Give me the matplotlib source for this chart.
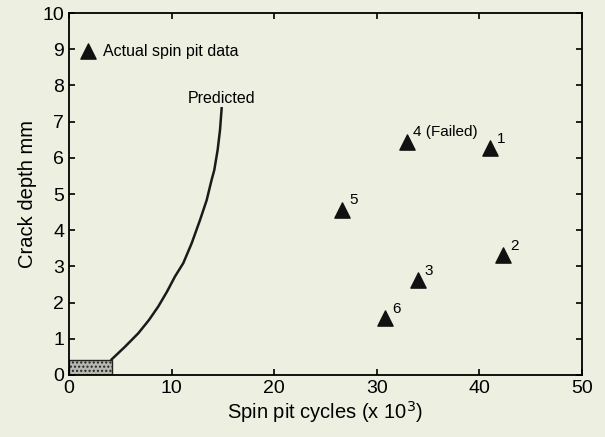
import matplotlib
matplotlib.use("Agg")
import matplotlib.pyplot as plt
from matplotlib.patches import Rectangle

plt.rcParams['font.family'] = ['Liberation Sans', 'DejaVu Sans']

# spin pit test data
pitX = [41.0, 42.3, 34.0, 32.9, 26.6, 30.8]
pitY = [6.27, 3.31, 2.62, 6.44, 4.56, 1.57]
pitLabels = ["1", "2", "3", "4 (Failed)", "5", "6"]

# predicted curve
predX = [4.16, 5.46, 6.75, 7.8, 8.7, 9.55, 10.33, 11.14, 11.96, 12.77, 13.42, 13.9, 14.16, 14.49, 14.72, 14.88]
predY = [0.43, 0.78, 1.15, 1.52, 1.89, 2.3, 2.72, 3.09, 3.64, 4.28, 4.83, 5.39, 5.66, 6.22, 6.77, 7.37]

# initial flaw box
boxW = 4.2
boxH = 0.42

bg = "#edefe1"
fig = plt.figure(figsize=(6.05, 4.37), dpi=100, facecolor=bg)
ax = fig.add_axes([0.114, 0.142, 0.848, 0.828], facecolor=bg)

ax.plot(predX, predY, color="#1a1a1a", lw=1.8, solid_joinstyle="round")
ax.add_patch(Rectangle((0, 0), boxW, boxH, facecolor="#b8b8b0", edgecolor="#222222",
                       hatch="....", lw=1.0))
ax.scatter(pitX, pitY, marker="^", s=120, color="#111111", zorder=3)
for x, y, t in zip(pitX, pitY, pitLabels):
    ax.annotate(t, (x, y), xytext=(5, 4), textcoords="offset points", fontsize=11)

ax.text(14.9, 7.65, "Predicted", fontsize=11.5, ha="center", va="center")
ax.scatter([1.9], [8.95], marker="^", s=120, color="#111111")
ax.text(3.3, 8.95, "Actual spin pit data", fontsize=11.5, va="center")

ax.set_xlim(0, 50)
ax.set_ylim(0, 10)
ax.set_xticks(range(0, 51, 10))
ax.set_yticks(range(0, 11))
ax.tick_params(direction="in", top=True, right=True, length=4, width=1.2, labelsize=14)
for s in ax.spines.values():
    s.set_linewidth(1.3)
ax.set_xlabel("Spin pit cycles (x 10$^3$)", fontsize=14.5, labelpad=2)
ax.set_ylabel("Crack depth mm", fontsize=14.5, labelpad=4)

fig.savefig("out.png", dpi=100, facecolor=bg)
